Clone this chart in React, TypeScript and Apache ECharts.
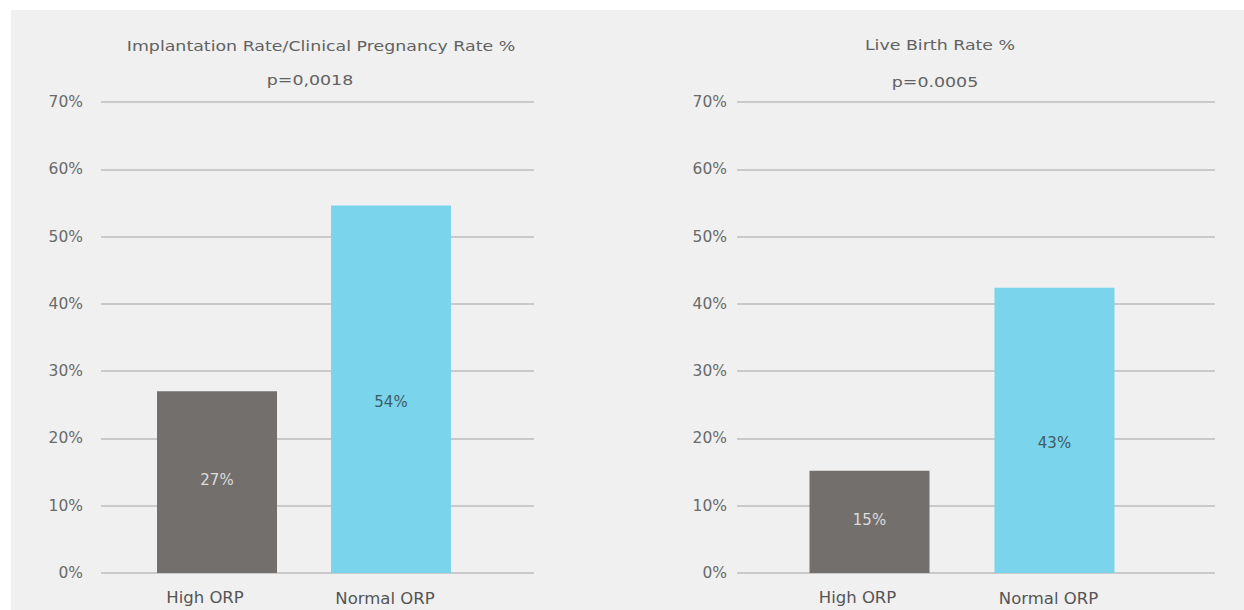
import React, { useEffect, useRef } from "react";
import * as echarts from "echarts";

const categories = ["High ORP", "Normal ORP"];
const implantationValues = [27, 54.6];
const implantationLabels = ["27%", "54%"];
const liveBirthValues = [15.2, 42.4];
const liveBirthLabels = ["15%", "43%"];
const yTicks = [0, 10, 20, 30, 40, 50, 60, 70];
const leftTitle = "Implantation Rate/Clinical Pregnancy Rate %";
const leftP = "p=0,0018";
const rightTitle = "Live Birth Rate %";
const rightP = "p=0.0005";

const FONT = "DejaVu Sans";
const GRAY_BAR = "#736f6d";
const CYAN_BAR = "#7ad4ec";

export default function App() {
  const ref = useRef<HTMLDivElement>(null);
  useEffect(() => {
    document.body.style.margin = "0";
    const chart = echarts.init(ref.current!, undefined, { renderer: "svg" });
    const yMin = yTicks[0];
    const yMax = yTicks[yTicks.length - 1];
    const lineY = (grid: number, margin: number) => ({
      type: "value",
      gridIndex: grid,
      min: yMin,
      max: yMax,
      interval: 10,
      axisLine: { show: false },
      axisTick: { show: false },
      axisLabel: {
        formatter: "{value}%",
        margin,
        color: "#6a6a6a",
        fontSize: 15.5,
        fontFamily: FONT,
      },
      splitLine: { show: true, lineStyle: { color: "#c9c9c9", width: 2 } },
    });
    const barY = (grid: number) => ({
      type: "value",
      gridIndex: grid,
      min: yMin,
      max: yMax,
      show: false,
      splitLine: { show: false },
    });
    const hiddenX = (grid: number) => ({
      type: "category",
      gridIndex: grid,
      data: categories,
      show: false,
    });
    const barX = (grid: number) => ({
      type: "category",
      gridIndex: grid,
      data: categories.map((c, i) => ({
        value: c,
        textStyle: { padding: i === 0 ? [0, 24, 0, 0] : [1, 12, 0, 0] },
      })),
      axisLine: { show: false },
      axisTick: { show: false },
      axisLabel: {
        margin: 16,
        color: "#555",
        fontSize: 16.5,
        fontFamily: FONT,
      },
    });
    const barSeries = (grid: number, values: number[], labels: string[]) => ({
      type: "bar",
      xAxisIndex: grid,
      yAxisIndex: grid,
      barWidth: 120,
      data: values.map((v, i) => ({
        value: v,
        itemStyle: { color: i === 0 ? GRAY_BAR : CYAN_BAR },
        label: {
          color: i === 0 ? "#dcdcdc" : "#3d5c66",
          offset: i === 0 ? [0, -2] : [0, 13],
        },
      })),
      label: {
        show: true,
        position: "inside",
        fontSize: 15,
        fontFamily: FONT,
        formatter: (p: any) => labels[p.dataIndex],
      },
    });
    const titleText = (x: number, y: number, text: string) => ({
      type: "text",
      x,
      y,
      scaleX: 1.2,
      style: {
        text,
        fill: "#626262",
        fontSize: 14.5,
        fontFamily: FONT,
        textAlign: "center",
        textVerticalAlign: "middle",
      },
    });
    const gridBase = { top: 102, bottom: 37, outerBoundsMode: "none", containLabel: false };
    chart.setOption({
      animation: false,
      backgroundColor: "#ffffff",
      graphic: [
        {
          type: "rect",
          z: -10,
          shape: { x: 11, y: 10, width: 1233, height: 600 },
          style: { fill: "#f0f0f0" },
        },
        titleText(321, 46, leftTitle),
        titleText(310, 80, leftP),
        titleText(940, 45, rightTitle),
        titleText(935, 82, rightP),
      ],
      grid: [
        { ...gridBase, left: 101, width: 433 },
        { ...gridBase, left: 130, width: 348 },
        { ...gridBase, left: 737, width: 478 },
        { ...gridBase, left: 777, width: 370 },
      ],
      xAxis: [hiddenX(0), barX(1), hiddenX(2), barX(3)],
      yAxis: [lineY(0, 18), barY(1), lineY(2, 10), barY(3)],
      series: [
        barSeries(1, implantationValues, implantationLabels),
        barSeries(3, liveBirthValues, liveBirthLabels),
      ],
    });
    return () => chart.dispose();
  }, []);
  return <div ref={ref} style={{ width: 1244, height: 610 }} />;
}
